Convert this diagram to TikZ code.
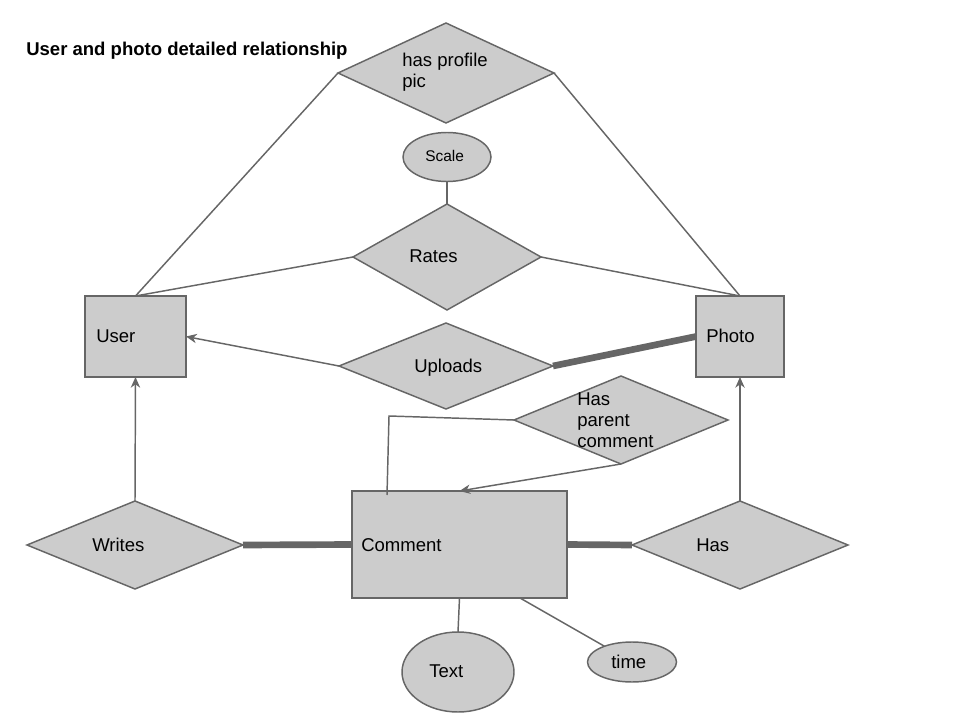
\documentclass[tikz,border=0pt]{standalone}
\usepackage{fontspec}
\setmainfont{Liberation Sans}
\usetikzlibrary{shapes.geometric,arrows.meta}
\definecolor{shapefill}{HTML}{CCCCCC}
\definecolor{edgegray}{HTML}{666666}
\tikzset{
  base/.style={draw=edgegray, fill=shapefill, line width=1.1pt, inner sep=0pt, outer sep=0pt},
  rel/.style={base, shape=diamond},
  ent/.style={base, shape=rectangle},
  attr/.style={base, shape=ellipse},
  lbl/.style={anchor=base west, inner sep=0pt, align=left, font=\fontsize{13.9}{15.75}\selectfont},
  conn/.style={draw=edgegray, line width=1.1pt},
  arr/.style={conn, -{Stealth[length=8pt,width=7pt,inset=2.5pt]}},
  thick conn/.style={draw=edgegray, line width=5pt},
}
\begin{document}
\begin{tikzpicture}[x=0.75pt,y=-0.75pt]
\path[use as bounding box] (0,0) rectangle (960,720);
% title
\node[lbl, font=\fontsize{13.9}{15.75}\selectfont\bfseries] (title) at (26,56) {User and photo detailed relationship};
% relationships
\node[rel, minimum width=162pt, minimum height=75pt] (hpp) at (446,73) {};
\node[rel, minimum width=141pt, minimum height=79.5pt] (rates) at (447,257) {};
\node[rel, minimum width=160.5pt, minimum height=64.5pt] (uploads) at (446,366) {};
\node[rel, minimum width=160.5pt, minimum height=66pt] (hpc) at (621,420) {};
\node[rel, minimum width=162pt, minimum height=66pt] (writes) at (135,545) {};
\node[rel, minimum width=162pt, minimum height=66pt] (has) at (740,545) {};
% entities
\node[ent, minimum width=75.75pt, minimum height=60.75pt] (user) at (135.5,336.5) {};
\node[ent, minimum width=66pt, minimum height=60.75pt] (photo) at (740,336.5) {};
\node[ent, minimum width=161.25pt, minimum height=80.25pt] (comment) at (459.5,544.5) {};
% attributes
\node[attr, minimum width=66pt, minimum height=36.75pt] (scale) at (447,157) {};
\node[attr, minimum width=84pt, minimum height=60pt] (text) at (458,672) {};
\node[attr, minimum width=66.75pt, minimum height=30pt] (time) at (632,662) {};
% labels (multi-line labels are anchored at their last baseline)
\node[lbl] (hppT) at (402,88) {has profile\\pic};
\node[lbl, font=\fontsize{11.6}{14}\selectfont] (scaleT) at (425,162) {Scale};
\node[lbl] (ratesT) at (409,263) {Rates};
\node[lbl] (userT) at (96,342) {User};
\node[lbl] (photoT) at (706,342) {Photo};
\node[lbl] (uploadsT) at (414,372) {Uploads};
\node[lbl] (hpcT) at (577,447) {Has\\parent\\comment};
\node[lbl] (writesT) at (92,551) {Writes};
\node[lbl] (commentT) at (361,551) {Comment};
\node[lbl] (hasT) at (696,551) {Has};
\node[lbl] (textT) at (429,677) {Text};
\node[lbl] (timeT) at (611,668) {time};
% connectors
\draw[conn] (user.north) -- (hpp.west);
\draw[conn] (photo.north) -- (hpp.east);
\draw[conn] (rates.west) -- (user.north);
\draw[conn] (rates.east) -- (photo.north);
\draw[conn] (scale.south) -- (rates.north);
\draw[arr] (uploads.west) -- (user.east);
\draw[thick conn] (uploads.east) -- (photo.west);
\draw[arr] (writes.north) -- (user.south);
\draw[arr] (has.north) -- (photo.south);
\draw[thick conn] (writes.east) -- (comment.west);
\draw[thick conn] (has.west) -- (comment.east);
\draw[conn] (comment.south) -- (text.north);
\draw[conn] ([xshift=45.4pt]comment.south) -- (time);
\coordinate (hpcA) at (389,416);
\coordinate (hpcB) at (387,495);
\draw[conn] (hpc.west) -- (hpcA) -- (hpcB);
\draw[arr] (hpc.south) -- (comment.north);
\end{tikzpicture}
\end{document}
